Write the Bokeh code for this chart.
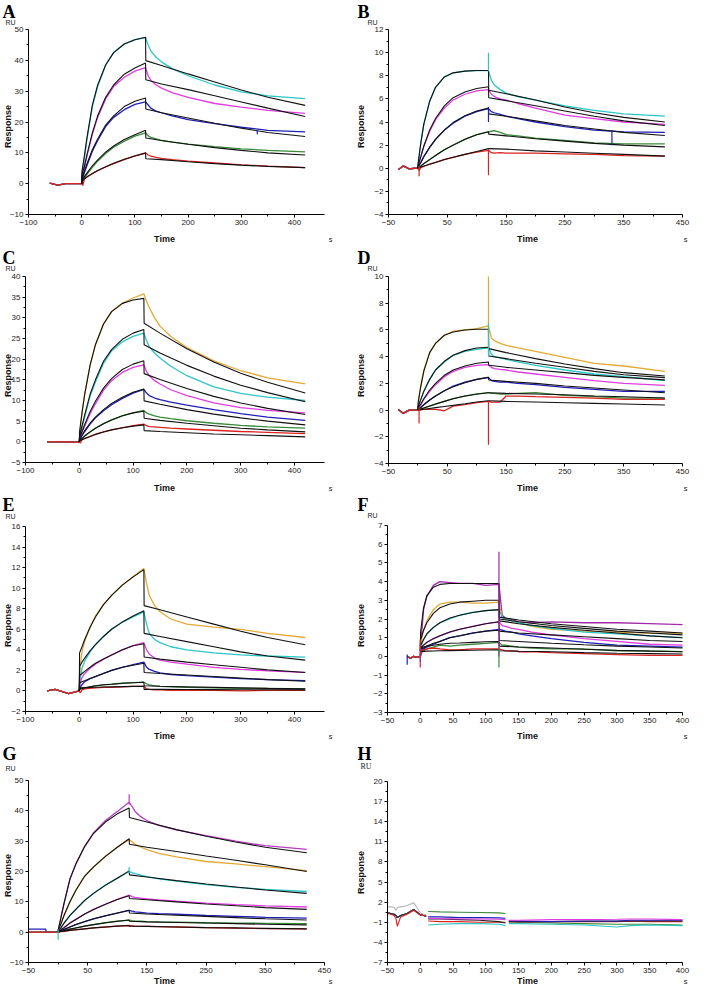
import math
from bokeh.plotting import figure
from bokeh.layouts import gridplot
from bokeh.models import Label, FixedTicker, Range1d
from bokeh.embed import file_html
from bokeh.resources import INLINE

CYAN = "#2cc6c6"; MAG = "#e03ce0"; BLUE = "#1f1fb8"; GREEN = "#3b8a3b"
RED = "#dd2222"; ORANGE = "#e3a935"; PURPLE = "#a22aa8"; VIOLET = "#b83cc2"; FIT = "#111111"
GRAY = "#b8b8b8"; BLACK = "#222222"

# ---------------- shared time grids ----------------
T_ON = [2, 5, 10, 20, 30, 45, 60, 80, 100, 120]
T_OFF = [125, 130, 140, 150, 170, 200, 250, 300, 350, 420]
T_FIT = [0, 0.5, 5, 10, 20, 30, 45, 60, 80, 100, 120, 120.5, 150, 200, 250, 300, 350, 420]
T_OFF_F = [125, 130, 140, 150, 170, 200, 250, 300, 350, 400]
T_FIT_F = [0, 0.5, 5, 10, 20, 30, 45, 60, 80, 100, 120, 120.5, 150, 200, 250, 300, 350, 400]

# ---------------- Panel A ----------------
A_t0 = [-60, -45, -30, -15, 0]
A_base = [0.2, -0.5, 0, 0, 0]
A_cyan_on = [4, 8, 14.5, 25, 31.5, 38.5, 42.5, 45.3, 46.7, 47.4]
A_cyan_off = [45, 43, 41, 39.5, 37.3, 35, 32, 29.8, 28.5, 27.6]
A_cyan_fit = [0, 4, 9, 15, 25.5, 32, 38.5, 42.5, 45.3, 46.7, 47.5, 39.9, 38.3, 35.6, 33, 30.4, 28, 25.4]
A_mag_on = [2.5, 5, 9, 16, 21.5, 27.5, 31.5, 34.5, 36.5, 37.6]
A_mag_off = [35, 33.5, 32, 31, 29.5, 28, 26, 24.8, 23.8, 22.8]
A_mag_fit = [0, 3, 5.5, 9.5, 16.5, 22, 28, 32, 35.5, 37.5, 39.1, 33.7, 32.3, 30.5, 28.5, 26.5, 24.5, 21.8]
A_blue_on = [1.5, 3.5, 6, 10.5, 14, 18.5, 21.5, 24, 25.7, 26.5]
A_blue_off = [25.5, 24.5, 23.5, 23, 22, 20.8, 19.5, 18.3, 17.3, 16.8]
A_blue_fit = [0, 2, 4, 6.5, 11, 14.5, 19, 22, 25, 26.7, 27.8, 24.2, 23, 21.3, 19.6, 18, 16.6, 15.3]
A_green_on = [0.8, 1.8, 3, 5.3, 7.3, 9.8, 11.8, 13.8, 15.4, 16.5]
A_green_off = [15.5, 15, 14.5, 14, 13.5, 12.8, 12, 11.3, 10.8, 10.3]
A_green_fit = [0, 1.2, 2.2, 3.5, 5.8, 7.7, 10.2, 12.2, 14.3, 15.9, 17.3, 14.8, 14, 12.8, 11.7, 10.8, 10, 9.3]
A_red_on = [-0.6, 1.5, 2.2, 3.2, 4.2, 5.4, 6.5, 7.8, 9, 10]
A_red_off = [9.3, 8.9, 8.5, 8.2, 7.8, 7.3, 6.7, 6.1, 5.7, 5.2]
A_red_fit = [0, 0.8, 1.5, 2.2, 3.3, 4.3, 5.5, 6.6, 7.9, 9, 9.9, 8.1, 7.8, 7.1, 6.5, 6, 5.6, 5.2]
A_spike_t = [330]; A_spike_lo = [16.0]; A_spike_hi = [17.4]; A_spike_c = [BLUE]

# ---------------- Panel B ----------------
B_t0 = [-33, -25, -15, -5, 0]
B_base = [-0.1, 0.2, -0.05, 0, 0]
B_cyan_on = [1.0, 2.2, 3.8, 5.8, 7.0, 7.9, 8.25, 8.4, 8.45, 8.45]
B_cyan_off = [7.6, 7.2, 6.8, 6.5, 6.2, 5.9, 5.4, 5.0, 4.7, 4.5]
B_cyan_fit = [0, 0.5, 2.2, 3.8, 5.8, 7.0, 7.9, 8.25, 8.4, 8.45, 8.45, 6.75, 6.45, 5.9, 5.3, 4.8, 4.4, 4.0]
B_mag_on = [0.5, 1.0, 1.9, 3.2, 4.2, 5.2, 5.9, 6.4, 6.7, 6.8]
B_mag_off = [6.4, 6.2, 6.0, 5.9, 5.6, 5.2, 4.6, 4.3, 4.0, 3.8]
B_mag_fit = [0, 0.3, 1.0, 1.9, 3.3, 4.3, 5.4, 6.1, 6.6, 6.9, 7.05, 6.1, 5.85, 5.4, 4.95, 4.5, 4.1, 3.7]
B_blue_on = [0.25, 0.5, 1.0, 1.8, 2.5, 3.3, 3.9, 4.5, 4.9, 5.15]
B_blue_off = [4.9, 4.8, 4.65, 4.5, 4.3, 4.0, 3.6, 3.3, 3.15, 3.1]
B_blue_fit = [0, 0.2, 0.5, 1.0, 1.8, 2.5, 3.3, 3.95, 4.55, 4.95, 5.2, 4.7, 4.5, 4.1, 3.7, 3.4, 3.1, 2.83]
B_green_on = [0.1, 0.2, 0.4, 0.75, 1.1, 1.6, 2.0, 2.5, 2.9, 3.15]
B_green_off = [3.2, 3.25, 3.1, 2.9, 2.8, 2.6, 2.4, 2.2, 2.1, 2.1]
B_green_fit = [0, 0.1, 0.2, 0.4, 0.75, 1.1, 1.6, 2.0, 2.5, 2.9, 3.15, 2.95, 2.8, 2.55, 2.35, 2.15, 2.0, 1.85]
B_red_on = [-0.2, 0.05, 0.15, 0.35, 0.5, 0.75, 0.95, 1.2, 1.4, 1.55]
B_red_off = [1.35, 1.3, 1.35, 1.3, 1.3, 1.3, 1.25, 1.2, 1.1, 1.05]
B_red_fit = [0, 0.05, 0.1, 0.2, 0.35, 0.5, 0.75, 0.95, 1.2, 1.45, 1.7, 1.7, 1.65, 1.5, 1.4, 1.3, 1.2, 1.05]
B_spike_t = [120, 120, 2, 330, 120]
B_spike_lo = [8.4, -0.6, -0.7, 2.0, 4.0]
B_spike_hi = [10.0, 1.7, 0.2, 3.3, 5.3]
B_spike_c = [CYAN, RED, RED, BLUE, BLUE]

# ---------------- Panel C ----------------
C_t0 = [-60, -45, -30, -15, 0]
C_base = [0, 0, 0.05, -0.1, 0]
C_orange_on = [3, 7, 11.5, 18.5, 23.5, 28.5, 31.5, 33.5, 34.8, 35.8]
C_orange_off = [34, 32.5, 30, 28, 25.5, 22.8, 19.6, 17.2, 15.5, 14.0]
C_orange_fit = [0, 2.5, 7, 11.5, 18.5, 23.5, 28.5, 31.5, 33.5, 34.3, 34.7, 28.7, 26.3, 22.5, 19.3, 16.6, 14.4, 11.8]
C_cyan_on = [1.5, 3.5, 6, 11, 14.5, 19, 22, 24.2, 25.5, 26.3]
C_cyan_off = [24.5, 23, 21.5, 20.3, 18.3, 16, 13.3, 11.7, 10.8, 10.0]
C_cyan_fit = [0, 1.5, 3.8, 6.5, 11.5, 15, 19.5, 22.3, 24.8, 26.3, 27.2, 23.5, 21.5, 18.5, 15.9, 13.7, 11.9, 9.7]
C_mag_on = [1, 2.2, 3.8, 6.8, 9.2, 12.5, 14.8, 16.8, 18, 18.6]
C_mag_off = [17, 16, 14.8, 14, 12.6, 11.2, 9.4, 8.3, 7.6, 7.0]
C_mag_fit = [0, 1.2, 2.5, 4.2, 7.3, 9.8, 13, 15.3, 17.5, 18.8, 19.6, 16.5, 15.1, 12.9, 11.0, 9.4, 8.1, 6.6]
C_blue_on = [0.8, 1.5, 2.5, 4.3, 5.8, 7.5, 9, 10.5, 11.8, 12.7]
C_blue_off = [11.8, 11.2, 10.6, 10.2, 9.6, 8.9, 7.8, 6.8, 6.0, 5.2]
C_blue_fit = [0, 0.8, 1.6, 2.7, 4.5, 6, 7.8, 9.3, 10.8, 12, 12.8, 9.9, 9.1, 7.8, 6.7, 5.8, 5.0, 4.1]
C_green_on = [0.4, 0.8, 1.4, 2.4, 3.3, 4.4, 5.3, 6.3, 7, 7.6]
C_green_off = [7.0, 6.7, 6.3, 6.0, 5.6, 5.1, 4.5, 4.0, 3.6, 3.3]
C_green_fit = [0, 0.4, 0.8, 1.4, 2.4, 3.3, 4.4, 5.3, 6.3, 7, 7.4, 5.7, 5.2, 4.5, 3.9, 3.3, 2.9, 2.4]
C_red_on = [-0.3, 0.5, 0.8, 1.3, 1.8, 2.4, 2.9, 3.4, 3.9, 4.3]
C_red_off = [3.9, 3.7, 3.6, 3.5, 3.3, 3.1, 2.8, 2.5, 2.3, 2.0]
C_red_fit = [0, 0.2, 0.5, 0.8, 1.3, 1.8, 2.4, 2.9, 3.4, 3.8, 4.1, 2.7, 2.5, 2.2, 1.9, 1.7, 1.5, 1.2]

# ---------------- Panel D ----------------
D_t0 = [-33, -25, -15, -5, 0]
D_base = [0.05, -0.25, 0, 0, 0]
D_orange_on = [1.0, 1.8, 3.0, 4.3, 5.0, 5.6, 5.9, 6.0, 6.1, 6.3]
D_orange_off = [5.4, 5.2, 5.0, 4.85, 4.65, 4.4, 3.95, 3.5, 3.3, 2.9]
D_orange_fit = [0, 0.6, 1.8, 2.9, 4.3, 5.0, 5.6, 5.85, 6.0, 6.05, 6.05, 4.6, 4.3, 3.85, 3.45, 3.1, 2.8, 2.55]
D_cyan_on = [0.4, 0.8, 1.4, 2.3, 3.0, 3.6, 4.1, 4.4, 4.55, 4.65]
D_cyan_off = [4.2, 4.0, 3.9, 3.8, 3.6, 3.35, 3.0, 2.7, 2.5, 2.2]
D_cyan_fit = [0, 0.3, 0.8, 1.4, 2.3, 3.0, 3.65, 4.1, 4.45, 4.65, 4.7, 4.05, 3.85, 3.5, 3.2, 2.9, 2.65, 2.43]
D_mag_on = [0.2, 0.4, 0.8, 1.4, 1.9, 2.5, 2.9, 3.2, 3.35, 3.4]
D_mag_off = [3.2, 3.1, 3.05, 3.0, 2.85, 2.7, 2.45, 2.2, 2.0, 1.85]
D_mag_fit = [0, 0.2, 0.45, 0.85, 1.5, 2.0, 2.6, 3.0, 3.3, 3.5, 3.6, 3.35, 3.2, 3.0, 2.8, 2.6, 2.45, 2.26]
D_blue_on = [0.1, 0.2, 0.4, 0.75, 1.05, 1.45, 1.8, 2.1, 2.3, 2.45]
D_blue_off = [2.2, 2.15, 2.1, 2.1, 2.0, 1.9, 1.7, 1.55, 1.4, 1.4]
D_blue_fit = [0, 0.05, 0.2, 0.4, 0.75, 1.05, 1.45, 1.75, 2.05, 2.3, 2.45, 2.25, 2.15, 2.0, 1.8, 1.65, 1.5, 1.3]
D_green_on = [0.05, 0.1, 0.15, 0.3, 0.45, 0.65, 0.85, 1.05, 1.2, 1.3]
D_green_off = [1.25, 1.25, 1.2, 1.2, 1.25, 1.3, 1.1, 1.0, 0.9, 0.9]
D_green_fit = [0, 0.03, 0.07, 0.15, 0.3, 0.45, 0.65, 0.85, 1.05, 1.2, 1.3, 1.3, 1.25, 1.2, 1.15, 1.05, 1.0, 0.9]
D_red_on = [0.0, 0.02, 0.05, 0.05, 0.05, -0.05, 0.3, 0.4, 0.55, 0.65]
D_red_off = [0.6, 0.6, 0.6, 1.05, 1.05, 1.0, 0.95, 0.9, 0.8, 0.8]
D_red_fit = [0, 0.01, 0.03, 0.06, 0.12, 0.18, 0.27, 0.35, 0.47, 0.6, 0.7, 0.7, 0.65, 0.6, 0.55, 0.5, 0.45, 0.38]
D_spike_t = [120, 120, 120, 2]
D_spike_lo = [4.5, 4.0, -2.6, -1.0]
D_spike_hi = [10.0, 6.5, 0.7, 0.2]
D_spike_c = [ORANGE, CYAN, RED, RED]

# ---------------- Panel E ----------------
E_t0 = [-60, -45, -30, -20, 0]
E_base = [0, 0.15, -0.1, -0.25, 0]
E_orange_on = [2.5, 3.8, 4.8, 6.2, 7.3, 8.4, 9.3, 10.3, 11.1, 11.9]
E_orange_off = [10.5, 9.3, 8.3, 7.7, 7.0, 6.5, 6.2, 6.0, 5.6, 5.2]
E_orange_fit = [0, 3.7, 4.3, 5.0, 6.2, 7.2, 8.4, 9.3, 10.3, 11.1, 11.8, 8.3, 7.9, 7.2, 6.5, 5.8, 5.2, 4.5]
E_cyan_on = [1.3, 2.2, 2.9, 3.8, 4.5, 5.3, 6.0, 6.7, 7.2, 7.7]
E_cyan_off = [6.5, 5.6, 5.0, 4.7, 4.3, 4.0, 3.7, 3.5, 3.4, 3.3]
E_cyan_fit = [0, 2.4, 2.8, 3.2, 3.9, 4.5, 5.3, 6.0, 6.7, 7.3, 7.8, 5.6, 5.3, 4.8, 4.3, 3.8, 3.4, 3.0]
E_mag_on = [0.8, 1.3, 1.7, 2.2, 2.6, 3.1, 3.5, 4.0, 4.4, 4.7]
E_mag_off = [4.0, 3.6, 3.2, 3.0, 2.8, 2.6, 2.3, 2.1, 1.95, 1.8]
E_mag_fit = [0, 1.5, 1.7, 1.9, 2.3, 2.7, 3.1, 3.5, 4.0, 4.4, 4.6, 3.3, 3.1, 2.8, 2.55, 2.3, 2.05, 1.8]
E_blue_on = [0.4, 0.6, 0.9, 1.2, 1.4, 1.7, 2.0, 2.3, 2.55, 2.8]
E_blue_off = [2.3, 2.1, 1.9, 1.75, 1.6, 1.5, 1.35, 1.2, 1.1, 1.0]
E_blue_fit = [0, 0.8, 0.9, 1.0, 1.2, 1.4, 1.7, 2.0, 2.3, 2.5, 2.7, 1.8, 1.7, 1.55, 1.4, 1.25, 1.1, 0.95]
E_green_on = [0.15, 0.25, 0.3, 0.4, 0.5, 0.6, 0.65, 0.75, 0.8, 0.85]
E_green_off = [0.7, 0.6, 0.5, 0.45, 0.4, 0.35, 0.3, 0.25, 0.25, 0.2]
E_green_fit = [0, 0.2, 0.25, 0.3, 0.4, 0.5, 0.6, 0.65, 0.75, 0.8, 0.85, 0.5, 0.45, 0.4, 0.35, 0.3, 0.25, 0.2]
E_red_on = [-0.2, 0.1, 0.2, 0.25, 0.3, 0.35, 0.35, 0.4, 0.45, 0.45]
E_red_off = [0.2, 0.15, 0.1, 0.1, 0.05, 0.05, 0.05, 0.0, 0.05, 0.05]
E_red_fit = [0, 0.3, 0.3, 0.32, 0.34, 0.36, 0.38, 0.4, 0.42, 0.44, 0.45, 0.15, 0.15, 0.14, 0.13, 0.12, 0.11, 0.1]

# ---------------- Panel F ----------------
F_t0 = [-20, -15, -10, -5, 0]
F_base = [0, -0.1, 0, -0.05, 0]
F_purple_on = [1.2, 2.5, 3.2, 3.8, 4.0, 3.95, 3.9, 3.9, 3.8, 3.85]
F_purple_off = [2.2, 2.05, 1.95, 1.85, 1.8, 1.85, 1.8, 1.8, 1.75, 1.7]
F_purple_fit = [0.3, 1.3, 2.6, 3.25, 3.7, 3.85, 3.9, 3.9, 3.9, 3.9, 3.9, 2.1, 1.95, 1.75, 1.6, 1.45, 1.35, 1.25]
F_orange_on = [0.9, 1.4, 1.9, 2.5, 2.8, 2.9, 2.9, 2.85, 2.85, 2.9]
F_orange_off = [2.1, 2.0, 1.9, 1.8, 1.6, 1.45, 1.35, 1.3, 1.25, 1.25]
F_orange_fit = [0.5, 0.9, 1.4, 1.8, 2.3, 2.6, 2.8, 2.9, 2.95, 3.0, 3.0, 2.0, 1.85, 1.65, 1.5, 1.35, 1.25, 1.15]
F_cyan_on = [0.6, 0.9, 1.2, 1.55, 1.8, 2.0, 2.2, 2.35, 2.45, 2.5]
F_cyan_off = [2.1, 2.0, 1.9, 1.8, 1.65, 1.5, 1.3, 1.2, 1.1, 1.0]
F_cyan_fit = [0.4, 0.6, 0.9, 1.2, 1.55, 1.8, 2.05, 2.2, 2.35, 2.45, 2.5, 1.9, 1.75, 1.55, 1.4, 1.25, 1.1, 1.0]
F_mag_on = [0.45, 0.6, 0.75, 0.95, 1.1, 1.3, 1.45, 1.6, 1.75, 1.85]
F_mag_off = [1.65, 1.6, 1.5, 1.45, 1.3, 1.15, 0.95, 0.8, 0.65, 0.6]
F_mag_fit = [0.4, 0.45, 0.6, 0.75, 0.95, 1.1, 1.3, 1.45, 1.6, 1.75, 1.85, 1.35, 1.25, 1.15, 1.05, 0.95, 0.85, 0.8]
F_blue_on = [0.3, 0.4, 0.5, 0.65, 0.8, 1.0, 1.1, 1.25, 1.35, 1.45]
F_blue_off = [1.4, 1.35, 1.3, 1.2, 1.1, 0.95, 0.75, 0.6, 0.55, 0.5]
F_blue_fit = [0.3, 0.4, 0.45, 0.55, 0.7, 0.8, 1.0, 1.1, 1.25, 1.35, 1.4, 0.85, 0.8, 0.7, 0.62, 0.55, 0.5, 0.45]
F_green_on = [0.2, 0.3, 0.4, 0.5, 0.6, 0.55, 0.6, 0.65, 0.7, 0.75]
F_green_off = [0.6, 0.6, 0.55, 0.5, 0.45, 0.4, 0.4, 0.3, 0.3, 0.25]
F_green_fit = [0.3, 0.45, 0.5, 0.55, 0.6, 0.65, 0.7, 0.72, 0.75, 0.78, 0.8, 0.55, 0.5, 0.45, 0.38, 0.32, 0.28, 0.25]
F_red_on = [0.3, 0.35, 0.4, 0.45, 0.4, 0.35, 0.35, 0.4, 0.4, 0.4]
F_red_off = [0.35, 0.3, 0.3, 0.25, 0.25, 0.2, 0.15, 0.1, 0.05, 0.05]
F_red_fit = [0.25, 0.26, 0.27, 0.28, 0.29, 0.3, 0.31, 0.32, 0.33, 0.34, 0.35, 0.3, 0.28, 0.25, 0.2, 0.17, 0.15, 0.13]
F_spike_t = [120, 120, 0, 0, -20]
F_spike_lo = [0.0, -0.6, -0.6, -0.3, -0.45]
F_spike_hi = [5.6, 0.5, 0.9, 0.4, 0.1]
F_spike_c = [PURPLE, GREEN, RED, PURPLE, BLUE]

# ---------------- Panel G ----------------
G_t0 = [-50, -35, -21, -20, 0]
G_base = [0, 0, 0, 0, 0]
G_base_blue = [1.0, 1.0, 1.0, 0, 0]
G_purple_on = [2, 5, 9.5, 17.5, 22.5, 28.3, 32.8, 36.8, 39.8, 42.8]
G_purple_off = [41.5, 39.8, 38, 36.8, 35.2, 33.7, 31.8, 30.0, 28.5, 27.3]
G_purple_fit = [0, 1, 5, 9.5, 17.5, 22.5, 28.3, 32.6, 36.3, 39, 40.9, 37.8, 36.3, 33.8, 31.6, 29.7, 28.0, 26.2]
G_orange_on = [1, 2.8, 5.5, 10, 13.8, 18.5, 21.5, 25, 28, 30.5]
G_orange_off = [29.8, 29.0, 28, 27.2, 26, 24.8, 23.3, 22.5, 21.6, 20.3]
G_orange_fit = [0, 1, 2.8, 5.5, 10, 13.8, 18.5, 21.5, 25, 28, 30.8, 29.0, 28, 26.6, 25.1, 23.7, 22.2, 20.0]
G_cyan_on = [0.5, 1.5, 3, 5.5, 7.5, 10.5, 12.8, 15.5, 17.8, 20]
G_cyan_off = [19.6, 19.3, 18.8, 18.3, 17.6, 16.8, 15.7, 14.8, 14.1, 13.4]
G_cyan_fit = [0, 0.5, 1.5, 3, 5.5, 7.5, 10.5, 12.8, 15.5, 17.8, 20.2, 18.9, 18.2, 17, 15.9, 14.9, 13.9, 12.8]
G_mag_on = [0.3, 0.8, 1.5, 3, 4.2, 6, 7.5, 9.2, 10.8, 12.2]
G_mag_off = [11.7, 11.5, 11.2, 11.0, 10.6, 10.2, 9.6, 9.1, 8.7, 8.3]
G_mag_fit = [0, 0.3, 0.8, 1.5, 3, 4.2, 6, 7.5, 9.2, 10.8, 12.0, 11.1, 10.7, 10, 9.3, 8.7, 8.1, 7.5]
G_blue_on = [0.2, 0.5, 0.9, 1.7, 2.5, 3.5, 4.4, 5.4, 6.3, 7.2]
G_blue_off = [6.9, 6.7, 6.5, 6.3, 6.1, 5.9, 5.5, 5.2, 4.9, 4.6]
G_blue_fit = [0, 0.2, 0.5, 0.9, 1.7, 2.5, 3.5, 4.4, 5.4, 6.3, 7.2, 6.3, 6.0, 5.6, 5.2, 4.8, 4.4, 4.0]
G_green_on = [0.1, 0.3, 0.5, 1.0, 1.4, 2.0, 2.5, 3.1, 3.6, 4.0]
G_green_off = [3.8, 3.7, 3.6, 3.5, 3.4, 3.3, 3.1, 3.0, 2.9, 2.8]
G_green_fit = [0, 0.1, 0.3, 0.5, 1.0, 1.4, 2.0, 2.5, 3.1, 3.6, 4.0, 3.6, 3.4, 3.2, 3.0, 2.8, 2.6, 2.4]
G_red_on = [0.1, 0.2, 0.3, 0.6, 0.8, 1.1, 1.4, 1.7, 2.0, 2.2]
G_red_off = [2.1, 2.0, 1.9, 1.9, 1.8, 1.7, 1.5, 1.3, 1.2, 1.1]
G_red_fit = [0, 0.1, 0.2, 0.3, 0.6, 0.8, 1.1, 1.4, 1.7, 2.0, 2.2, 2.0, 1.9, 1.7, 1.5, 1.4, 1.25, 1.1]
G_spike_t = [120, 120, 0]
G_spike_lo = [42.0, 19.5, -2.5]
G_spike_hi = [45.5, 21.5, 1.0]
G_spike_c = [VIOLET, CYAN, CYAN]

# ---------------- Panel H ----------------
H_t1 = [-50, -45, -40, -37, -35, -30, -20, -10, -5, 0, 5, 9]
H_t2 = [12, 30, 60, 90, 120, 130]
H_t3 = [135, 150, 200, 250, 300, 320, 350, 400]
H_pre_common = [0.4, 0.3, 0.2, 0.0, -0.3, 0.0, 0.3, 0.9, 0.5, 0.1, 0.0, -0.1]
H_pre_gray = [1.3, 1.3, 1.2, 0.8, 1.2, 1.3, 1.5, 1.9, 1.2, 0.4, 0.2, 0.1]
H_pre_red = [0.3, 0.2, 0.0, -0.5, -1.6, -0.2, 0.2, 0.8, 0.4, 0.1, 0.0, -0.1]
H_mid_green = [0.6, 0.55, 0.5, 0.45, 0.4, 0.3]
H_mid_blue = [-0.2, -0.2, -0.3, -0.3, -0.35, -0.4]
H_mid_mag = [-0.4, -0.45, -0.5, -0.5, -0.55, -0.6]
H_mid_black = [-0.5, -0.5, -0.6, -0.7, -0.9, -1.1]
H_mid_red = [-0.8, -0.9, -0.9, -1.0, -1.0, -1.0]
H_mid_cyan = [-1.4, -1.3, -1.2, -1.2, -1.3, -1.5]
H_late_mag = [-0.7, -0.7, -0.6, -0.6, -0.55, -0.5, -0.5, -0.6]
H_late_blue = [-0.8, -0.8, -0.9, -0.8, -0.8, -0.7, -0.7, -0.7]
H_late_black = [-0.85, -0.9, -0.9, -0.85, -0.85, -0.8, -0.8, -0.8]
H_late_red = [-0.9, -0.95, -0.9, -0.9, -0.9, -0.85, -0.9, -0.9]
H_late_green = [-1.0, -1.0, -1.1, -1.2, -1.3, -1.3, -1.3, -1.4]
H_late_cyan = [-1.2, -1.2, -1.3, -1.4, -1.7, -1.5, -1.4, -1.5]

# ---------------- axis ticks ----------------
X_A = [-100, 0, 100, 200, 300, 400]
X_B = [-50, 50, 150, 250, 350, 450]
X_F = [-50, 0, 50, 100, 150, 200, 250, 300, 350, 400]
Y_A = [-10, 0, 10, 20, 30, 40, 50]
Y_B = [-4, -2, 0, 2, 4, 6, 8, 10, 12]
Y_C = [-5, 0, 5, 10, 15, 20, 25, 30, 35, 40]
Y_D = [-4, -2, 0, 2, 4, 6, 8, 10]
Y_E = [-2, 0, 2, 4, 6, 8, 10, 12, 14, 16]
Y_F = [-3, -2, -1, 0, 1, 2, 3, 4, 5, 6, 7]
Y_G = [-10, 0, 10, 20, 30, 40, 50]
Y_H = [-7, -4, -1, 2, 5, 8, 11, 14, 17, 20]

# ---------------- page layout (absolute pixels in the window) ----------------
ROW_TOP = [8, 254, 501, 748]
ROW_H = [246, 247, 247, 247]
COL_LEFT = [8, 353]
COL_W = [345, 345]
SANS = "Liberation Sans"
SERIF = "Liberation Serif"


def mids(t):
    return [(a + b) / 2 for a, b in zip(t[:-1], t[1:])]


def panel(letter, row, col, xmap, ymap, xbounds, ybounds, xt, yt, pos, ru_serif=False):
    """xmap/ymap = (value1, pixel1, value2, pixel2) in window pixels."""
    left, top, w, h = COL_LEFT[col], ROW_TOP[row], COL_W[col], ROW_H[row]
    v1, p1, v2, p2 = xmap
    sx = (p2 - p1) / (v2 - v1)
    x0 = v1 + (left - p1) / sx
    x1 = v1 + (left + w - p1) / sx
    u1, q1, u2, q2 = ymap
    sy = (q2 - q1) / (u2 - u1)
    ytop = u1 + (top - q1) / sy
    ybot = u1 + (top + h - q1) / sy
    p = figure(width=w, height=h, x_range=Range1d(x0, x1), y_range=Range1d(ybot, ytop),
               output_backend="svg", toolbar_location=None, min_border=0)
    p.outline_line_color = None
    p.grid.visible = False
    p.xaxis.fixed_location = ybounds[0]
    p.xaxis.bounds = xbounds
    p.yaxis.fixed_location = xbounds[0]
    p.yaxis.bounds = ybounds
    for ax, ticks in ((p.xaxis[0], xt), (p.yaxis[0], yt)):
        ax.ticker = FixedTicker(ticks=ticks, minor_ticks=mids(ticks))
        ax.axis_line_color = "black"
        ax.major_tick_line_color = "black"
        ax.minor_tick_line_color = "black"
        ax.major_tick_out = 3
        ax.major_tick_in = 0
        ax.minor_tick_out = 2
        ax.minor_tick_in = 0
        ax.major_label_text_font = SANS
        ax.major_label_text_font_size = "8px"
        ax.major_label_text_color = "#222222"
        ax.major_label_standoff = 2

    def scr(ax_, ay_):
        return ax_ - left, top + h - ay_

    items = [
        (letter, pos["letter"], dict(text_font=SERIF, text_font_style="bold", text_font_size="18px",
                                     text_baseline="top", text_align="left", text_color="black")),
        ("RU", pos["ru"], dict(text_font=SERIF if ru_serif else SANS,
                               text_font_size="8px" if ru_serif else "7px",
                               text_baseline="bottom", text_align="left", text_color="#222222")),
        ("Response", pos["resp"], dict(text_font=SANS, text_font_style="bold", text_font_size="9px",
                                       angle=math.pi / 2, text_align="center", text_baseline="middle",
                                       text_color="#111111")),
        ("Time", pos["time"], dict(text_font=SANS, text_font_style="bold", text_font_size="9px",
                                   text_align="center", text_baseline="middle", text_color="#111111")),
        ("s", pos["s"], dict(text_font=SANS, text_font_size="7.5px",
                             text_align="center", text_baseline="middle", text_color="#222222")),
    ]
    for text, (ax_, ay_), style in items:
        x, y = scr(ax_, ay_)
        p.add_layout(Label(x=x, y=y, x_units="screen", y_units="screen", text=text, **style))
    return p


def curves(p, t0, base, series, tfit, toff):
    for color, on, off, fit, b in series:
        p.line(t0 + T_ON + toff, (b if b is not None else base) + on + off,
               line_color=color, line_width=1.3)
    for color, on, off, fit, b in series:
        p.line(tfit, fit, line_color=FIT, line_width=1.1)


def spikes(p, t, lo, hi, c):
    p.segment(x0=t, y0=lo, x1=t, y1=hi, line_color=c, line_width=1.2)


def texts_left(letter_top, ru_bottom, resp_y, time_y):
    return dict(letter=(10, letter_top), ru=(13, ru_bottom), resp=(15, resp_y),
                time=(172, time_y), s=(338, time_y + 1))


def texts_right(letter_top, ru_bottom, resp_y, time_y, ru_x=375):
    return dict(letter=(365, letter_top), ru=(ru_x, ru_bottom), resp=(368.5, resp_y),
                time=(535, time_y), s=(693, time_y + 1))


pA = panel("A", 0, 0, (-100, 36, 400, 302), (50, 37, -10, 222), (-100, 456), (-10, 50), X_A, Y_A,
           texts_left(9, 33, 134, 246))
curves(pA, A_t0, A_base, [
    (CYAN, A_cyan_on, A_cyan_off, A_cyan_fit, None),
    (MAG, A_mag_on, A_mag_off, A_mag_fit, None),
    (BLUE, A_blue_on, A_blue_off, A_blue_fit, None),
    (GREEN, A_green_on, A_green_off, A_green_fit, None),
    (RED, A_red_on, A_red_off, A_red_fit, None)], T_FIT, T_OFF)
spikes(pA, A_spike_t, A_spike_lo, A_spike_hi, A_spike_c)

pB = panel("B", 0, 1, (-50, 396, 450, 690), (12, 37, -4, 222), (-50, 450), (-4, 12), X_B, Y_B,
           texts_right(9, 33, 134, 246))
curves(pB, B_t0, B_base, [
    (CYAN, B_cyan_on, B_cyan_off, B_cyan_fit, None),
    (MAG, B_mag_on, B_mag_off, B_mag_fit, None),
    (BLUE, B_blue_on, B_blue_off, B_blue_fit, None),
    (GREEN, B_green_on, B_green_off, B_green_fit, None),
    (RED, B_red_on, B_red_off, B_red_fit, None)], T_FIT, T_OFF)
spikes(pB, B_spike_t, B_spike_lo, B_spike_hi, B_spike_c)

pC = panel("C", 1, 0, (-100, 33, 400, 302), (40, 284, -5, 470), (-100, 456), (-5, 40), X_A, Y_C,
           texts_left(255, 279, 383, 495))
curves(pC, C_t0, C_base, [
    (ORANGE, C_orange_on, C_orange_off, C_orange_fit, None),
    (CYAN, C_cyan_on, C_cyan_off, C_cyan_fit, None),
    (MAG, C_mag_on, C_mag_off, C_mag_fit, None),
    (BLUE, C_blue_on, C_blue_off, C_blue_fit, None),
    (GREEN, C_green_on, C_green_off, C_green_fit, None),
    (RED, C_red_on, C_red_off, C_red_fit, None)], T_FIT, T_OFF)

pD = panel("D", 1, 1, (-50, 396, 450, 690), (10, 284, -4, 471), (-50, 450), (-4, 10), X_B, Y_D,
           texts_right(255, 279, 383, 495))
curves(pD, D_t0, D_base, [
    (ORANGE, D_orange_on, D_orange_off, D_orange_fit, None),
    (CYAN, D_cyan_on, D_cyan_off, D_cyan_fit, None),
    (MAG, D_mag_on, D_mag_off, D_mag_fit, None),
    (BLUE, D_blue_on, D_blue_off, D_blue_fit, None),
    (GREEN, D_green_on, D_green_off, D_green_fit, None),
    (RED, D_red_on, D_red_off, D_red_fit, None)], T_FIT, T_OFF)
spikes(pD, D_spike_t, D_spike_lo, D_spike_hi, D_spike_c)

pE = panel("E", 2, 0, (-100, 33, 400, 302), (16, 534, -2, 719), (-100, 456), (-2, 16), X_A, Y_E,
           texts_left(502, 527, 633, 743))
curves(pE, E_t0, E_base, [
    (ORANGE, E_orange_on, E_orange_off, E_orange_fit, None),
    (CYAN, E_cyan_on, E_cyan_off, E_cyan_fit, None),
    (MAG, E_mag_on, E_mag_off, E_mag_fit, None),
    (BLUE, E_blue_on, E_blue_off, E_blue_fit, None),
    (GREEN, E_green_on, E_green_off, E_green_fit, None),
    (RED, E_red_on, E_red_off, E_red_fit, None)], T_FIT, T_OFF)

pF = panel("F", 2, 1, (-50, 395, 400, 690), (7, 533, -3, 720), (-50, 400), (-3, 7), X_F, Y_F,
           texts_right(502, 526, 633, 743))
curves(pF, F_t0, F_base, [
    (PURPLE, F_purple_on, F_purple_off, F_purple_fit, None),
    (ORANGE, F_orange_on, F_orange_off, F_orange_fit, None),
    (CYAN, F_cyan_on, F_cyan_off, F_cyan_fit, None),
    (MAG, F_mag_on, F_mag_off, F_mag_fit, None),
    (BLUE, F_blue_on, F_blue_off, F_blue_fit, None),
    (GREEN, F_green_on, F_green_off, F_green_fit, None),
    (RED, F_red_on, F_red_off, F_red_fit, None)], T_FIT_F, T_OFF_F)
spikes(pF, F_spike_t, F_spike_lo, F_spike_hi, F_spike_c)

pG = panel("G", 3, 0, (-50, 36, 450, 332), (50, 788, -10, 970), (-50, 450), (-10, 50), X_B, Y_G,
           texts_left(751, 779, 883, 988))
curves(pG, G_t0, G_base, [
    (VIOLET, G_purple_on, G_purple_off, G_purple_fit, None),
    (ORANGE, G_orange_on, G_orange_off, G_orange_fit, None),
    (CYAN, G_cyan_on, G_cyan_off, G_cyan_fit, None),
    (MAG, G_mag_on, G_mag_off, G_mag_fit, None),
    (BLUE, G_blue_on, G_blue_off, G_blue_fit, G_base_blue),
    (GREEN, G_green_on, G_green_off, G_green_fit, None),
    (RED, G_red_on, G_red_off, G_red_fit, None)], T_FIT, T_OFF)
spikes(pG, G_spike_t, G_spike_lo, G_spike_hi, G_spike_c)

pH = panel("H", 3, 1, (-50, 395, 400, 690), (20, 789, -7, 970), (-50, 400), (-7, 20), X_F, Y_H,
           texts_right(751, 778, 880, 988, ru_x=368), ru_serif=True)
pH.line(H_t1, H_pre_gray, line_color=GRAY, line_width=1.2)
for c in (GREEN, BLUE, MAG, CYAN, BLACK):
    pH.line(H_t1, H_pre_common, line_color=c, line_width=1.1)
pH.line(H_t1, H_pre_red, line_color=RED, line_width=1.1)
for c, mid, late in ((GREEN, H_mid_green, H_late_green), (CYAN, H_mid_cyan, H_late_cyan),
                     (RED, H_mid_red, H_late_red), (BLACK, H_mid_black, H_late_black),
                     (BLUE, H_mid_blue, H_late_blue), (MAG, H_mid_mag, H_late_mag)):
    pH.line(H_t2, mid, line_color=c, line_width=1.1)
    pH.line(H_t3, late, line_color=c, line_width=1.1)

grid = gridplot([[pA, pB], [pC, pD], [pE, pF], [pG, pH]], toolbar_location=None)
open("out.html", "w").write(file_html(grid, INLINE))
